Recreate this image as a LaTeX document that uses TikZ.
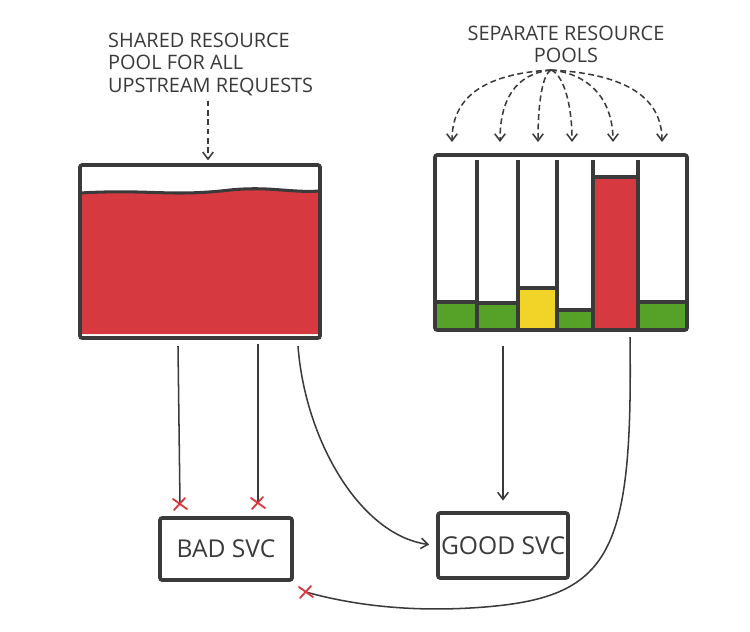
\documentclass[tikz,border=0pt]{standalone}
\usepackage{fontspec}
\setmainfont{Open Sans}
\usetikzlibrary{arrows.meta,calc}
\definecolor{ink}{RGB}{58,58,58}
\definecolor{marker}{RGB}{214,58,64}
\definecolor{leaf}{RGB}{86,162,40}
\definecolor{lemon}{RGB}{240,212,40}
\tikzset{
  box/.style={draw=ink, line width=3.2pt, rounded corners=2pt, inner sep=0pt},
  svc/.style={box, text=ink, font=\fontsize{21}{24}\selectfont},
  note/.style={text=ink, inner sep=0pt, font=\fontsize{17}{19}\selectfont},
  link/.style={draw=ink, line width=1.3pt},
  pointer/.style={link, -{Straight Barb[length=6pt,width=9pt]}},
  hint/.style={pointer, dash pattern=on 5pt off 3pt},
  level/.style={draw=ink, line width=2.6pt},
  cross/.style={draw=marker, line width=1.6pt, line cap=round}
}
\newcommand\failmark[1]{\draw[cross] ($(#1)+(-7,-5)$) -- ($(#1)+(7,5)$) ($(#1)+(-6,6)$) -- ($(#1)+(5,-6)$);}
\begin{document}
\begin{tikzpicture}[x=0.03cm, y=-0.03cm]
\useasboundingbox (0,0) rectangle (750,631);

% labels
\node[note, anchor=north west, align=left] (sharednote) at (108,33) {SHARED RESOURCE\\ POOL FOR ALL\\ UPSTREAM REQUESTS};
\node[note, align=center] (sepnote) at (566,44) {SEPARATE RESOURCE\\POOLS};

% shared pool, nearly full
\fill[marker] (82,193) .. controls (150,189) and (170,197) .. (230,190) .. controls (270,186) and (290,193) .. (318,191) -- (318,334) -- (82,334) -- cycle;
\draw[level] (80,193) .. controls (150,189) and (170,197) .. (230,190) .. controls (270,186) and (290,193) .. (320,191);
\node[box, minimum width=7.2cm, minimum height=5.19cm] (shared) at (200,251.5) {};

% separate pools
\fill[leaf] (437,302) rectangle (476,328);
\fill[leaf] (478,303) rectangle (517,328);
\fill[lemon] (519,288) rectangle (556,328);
\fill[leaf] (558,310) rectangle (592,328);
\fill[marker] (595,177) rectangle (637,328);
\fill[leaf] (639,302) rectangle (686,328);
\draw[level] (435,302) -- (477,302);
\draw[level] (477,303) -- (518,303);
\draw[level] (518,288) -- (557,288);
\draw[level] (557,310) -- (593,310);
\draw[level] (593,177) -- (638,177);
\draw[level] (638,302) -- (687,302);
\foreach \x in {477,518,557,593,638}
  \draw[level] (\x,160) -- (\x,329);
\node[box, minimum width=7.56cm, minimum height=5.25cm] (separate) at (561,242.5) {};

% services
\node[svc, minimum width=3.96cm, minimum height=1.86cm] (bad) at (226,549) {BAD SVC};
\node[svc, minimum width=3.9cm, minimum height=1.95cm] (good) at (503,545.5) {GOOD SVC};

% pointers from the labels
\draw[hint, shorten <=4pt, shorten >=4pt] (sharednote.south -| 208,0) -- (208,165);
\coordinate (fan) at (551,70);
\foreach \tx/\cx in {452/480, 500/515, 538/543, 572/562, 613/590, 662/630}
  \draw[hint] (fan) .. controls (\cx,74) and (\tx,100) .. (\tx,142);

% requests
\coordinate (b1) at (178,346);
\coordinate (b2) at (258,344);
\coordinate (b3) at (298,346);
\coordinate (g1) at (503,346);
\coordinate (r1) at (630,337);
\coordinate (x1) at (180,504);
\coordinate (x2) at (258,503);
\coordinate (x3) at (306,592);
\draw[link] (b1) -- (x1);
\draw[link] (b2) -- (x2);
\draw[pointer, shorten >=6pt] (b3) .. controls (305,440) and (360,535) .. (good.west);
\draw[pointer, shorten >=9pt] (g1) -- (g1 |- good.north);
\draw[link] (r1) .. controls (633,560) and (610,600) .. (470,608) .. controls (400,612) and (345,603) .. (x3);
\failmark{x1}
\failmark{x2}
\failmark{x3}
\end{tikzpicture}
\end{document}
